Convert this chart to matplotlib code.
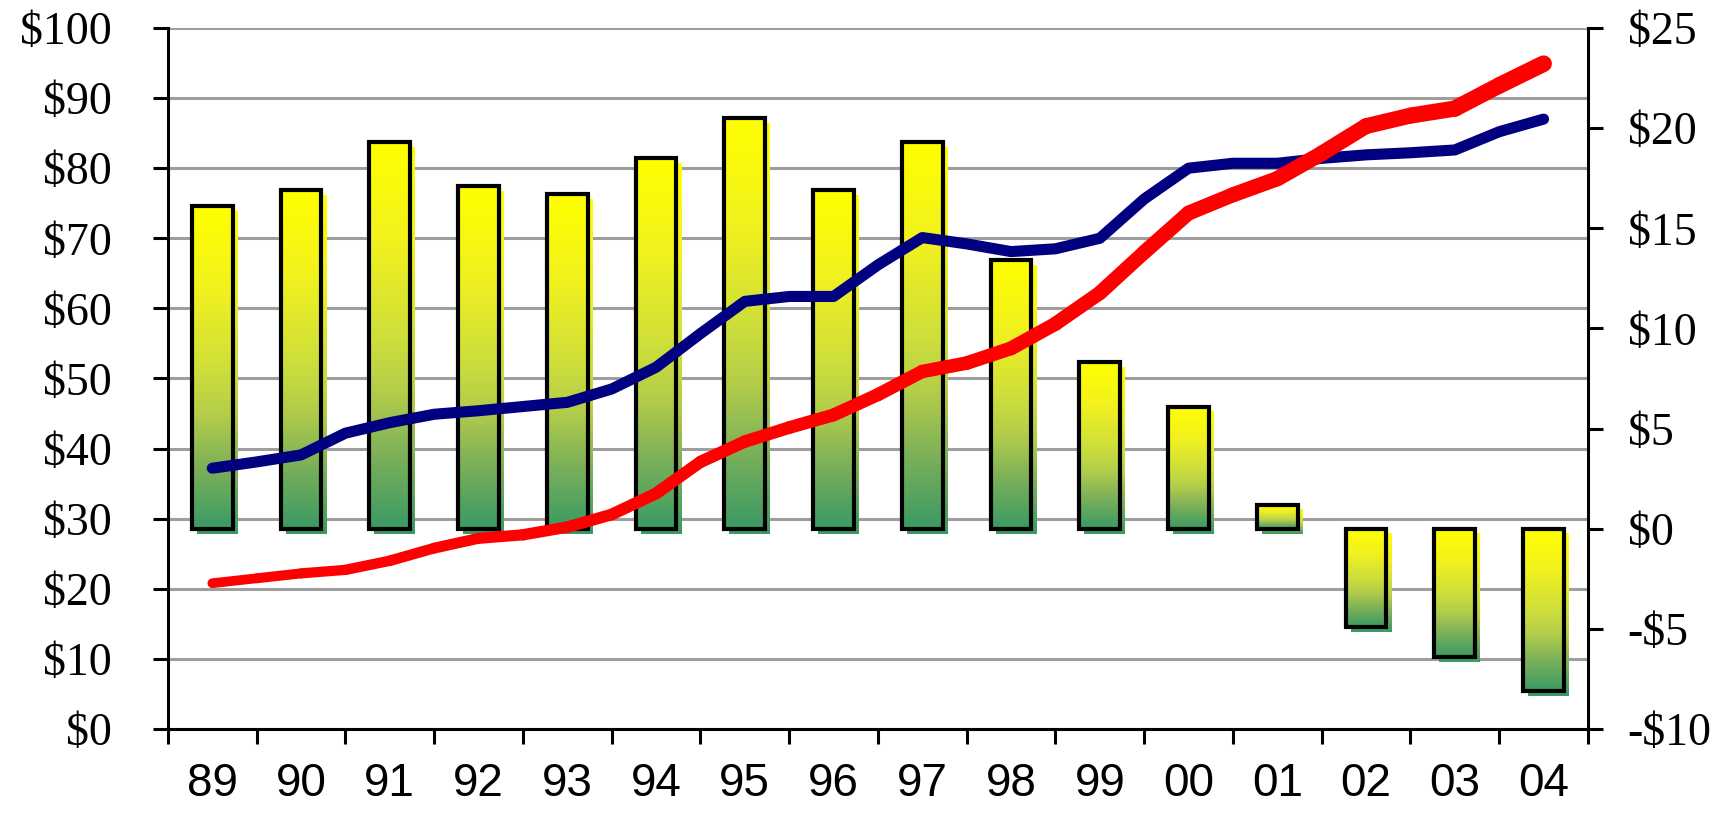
import matplotlib
matplotlib.use("Agg")
import matplotlib.pyplot as plt
import numpy as np
from matplotlib import transforms
from matplotlib.collections import LineCollection
from matplotlib.colors import LinearSegmentedColormap
from matplotlib.ticker import FixedLocator, FuncFormatter

YEARS = ["89", "90", "91", "92", "93", "94", "95", "96",
         "97", "98", "99", "00", "01", "02", "03", "04"]

# yearly change, right axis ($)
CHANGE = [16.1, 16.9, 19.3, 17.1, 16.7, 18.5, 20.5, 16.9,
          19.3, 13.4, 8.3, 6.1, 1.2, -4.9, -6.4, -8.1]

# half-year readings, left axis ($)
BLUE = [37.2, 38.1, 39.1, 42.2, 43.7, 44.9, 45.4, 46.0, 46.6, 48.5,
        51.6, 56.4, 61.0, 61.7, 61.7, 66.2, 70.1, 69.2, 68.1, 68.5,
        70.0, 75.6, 80.0, 80.7, 80.7, 81.4, 81.9, 82.2, 82.6, 85.2, 87.0]
RED = [20.8, 21.5, 22.2, 22.7, 24.0, 25.8, 27.2, 27.7, 28.8, 30.6,
       33.6, 38.1, 41.0, 43.0, 44.8, 47.7, 51.0, 52.2, 54.3, 57.8,
       62.2, 68.0, 73.6, 76.2, 78.5, 82.1, 86.0, 87.5, 88.5, 91.8, 94.9]

GRID = "#9e9e9e"
LW = 2.2
SERIF = "Liberation Serif"
SANS = "Liberation Sans"


def dollars(v, _):
    return f"-${abs(v):.0f}" if v < 0 else f"${v:.0f}"


fig = plt.figure(figsize=(17.33, 8.13), dpi=100)
fig.patch.set_facecolor("white")
ax = fig.add_axes([0.0969, 0.1033, 0.8194, 0.8623])
ax2 = ax.twinx()   # bars, right scale
ax3 = ax.twinx()   # lines, left scale, drawn on top

n = len(YEARS)
x = np.arange(n)

# left axis: grid and $ labels
ax.set_ylim(0, 100)
ax.set_yticks(np.arange(0, 101, 10))
ax.yaxis.set_major_formatter(FuncFormatter(dollars))
ax.set_axisbelow(True)
ax.yaxis.grid(True, color=GRID, linewidth=LW)
ax.tick_params(axis="y", direction="out", length=10.5, width=LW, labelsize=33, pad=30)
for lab in ax.get_yticklabels():
    lab.set_fontfamily(SERIF)

# x axis: ticks on category boundaries, labels at centers
ax.set_xlim(-0.5, n - 0.5)
ax.xaxis.set_major_locator(FixedLocator(np.arange(-0.5, n, 1.0)))
ax.xaxis.set_major_formatter(FuncFormatter(lambda v, _: ""))
ax.xaxis.set_minor_locator(FixedLocator(x))
ax.xaxis.set_minor_formatter(FuncFormatter(lambda v, _: YEARS[int(round(v))]))
ax.tick_params(axis="x", which="major", direction="out", length=10.5, width=LW)
ax.tick_params(axis="x", which="minor", length=0, labelsize=33, pad=24)
for lab in ax.get_xticklabels(minor=True):
    lab.set_fontfamily(SANS)

for side in ("top", "right"):
    ax.spines[side].set_visible(False)
for side in ("left", "bottom"):
    ax.spines[side].set_linewidth(LW)

# right axis: gradient bars
ax2.set_ylim(-10, 25)
ax2.set_yticks(np.arange(-10, 26, 5))
ax2.yaxis.set_major_formatter(FuncFormatter(dollars))
ax2.tick_params(axis="y", direction="out", length=10.5, width=LW, labelsize=33, pad=18)
for lab in ax2.get_yticklabels():
    lab.set_fontfamily(SERIF)
for side in ("top", "left", "bottom"):
    ax2.spines[side].set_visible(False)
ax2.spines["right"].set_linewidth(LW)

cmap = LinearSegmentedColormap.from_list(
    "yg", [(0.0, "#ffff00"), (0.25, "#f2f21e"), (0.5, "#cfdf3a"),
           (0.65, "#b3cd4a"), (0.8, "#80b258"), (1.0, "#3a9a64")])
grad = np.linspace(0, 1, 256).reshape(-1, 1)
shadow = transforms.offset_copy(ax2.transData, fig=fig, x=5, y=-5, units="dots")

bars = ax2.bar(x, CHANGE, width=0.46, fill=False, edgecolor="black",
               linewidth=3.0, zorder=3)
for rect in bars:
    x0 = rect.get_x()
    x1 = x0 + rect.get_width()
    y0 = min(rect.get_y(), rect.get_y() + rect.get_height())
    y1 = max(rect.get_y(), rect.get_y() + rect.get_height())
    for tr, z in ((shadow, 1), (ax2.transData, 2)):
        ax2.imshow(grad, cmap=cmap, extent=(x0, x1, y0, y1), origin="upper",
                   aspect="auto", interpolation="bilinear", transform=tr, zorder=z)
ax2.set_xlim(-0.5, n - 0.5)
ax2.set_ylim(-10, 25)

# lines on left scale
ax3.set_ylim(0, 100)
ax3.axis("off")
xl = np.arange(len(BLUE)) * 0.5
ax3.plot(xl, BLUE, color="#000080", linewidth=8.0,
         solid_capstyle="round", solid_joinstyle="round", zorder=4)

pts = np.column_stack([xl, RED])
segs = np.stack([pts[:-1], pts[1:]], axis=1)
red = LineCollection(segs, colors="#ff0000",
                     linewidths=np.linspace(7.0, 12.0, len(segs)),
                     capstyle="round", joinstyle="round", zorder=5)
ax3.add_collection(red)
ax3.set_xlim(-0.5, n - 0.5)

fig.savefig("out.png", dpi=100, facecolor="white")
